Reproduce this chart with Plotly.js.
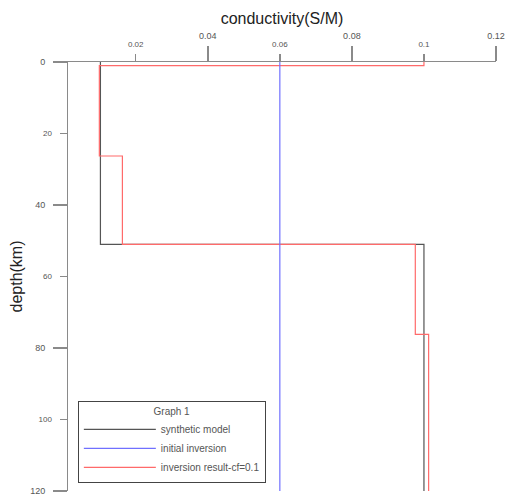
<!DOCTYPE html>
<html>
<head>
<meta charset="utf-8">
<script src="https://cdn.plot.ly/plotly-3.0.1.min.js"></script>
<style>html,body{margin:0;padding:0;background:#fff;}#chart{width:506px;height:499px;}</style>
</head>
<body>
<div id="chart"></div>
<script>
// Series names
var seriesNames = ['synthetic model', 'initial inversion', 'inversion result-cf=0.1'];
// Synthetic model (step profile: conductivity of each layer starting at the given depth)
var synthDepth = [0, 51, 120];
var synthCond = [0.0102, 0.1, 0.1];
// Initial inversion (uniform half-space)
var initDepth = [0, 120];
var initCond = [0.06, 0.06];
// Inversion result cf=0.1
var invDepth = [0, 1, 26.3, 51, 76.2, 120];
var invCond = [0.1, 0.0099, 0.0163, 0.0976, 0.1013, 0.1013];
// Ticks (alternating short / long)
var xTicksShort = [0.02, 0.06, 0.1];
var xTickTextShort = ['0.02', '0.06', '0.1'];
var xTicksLong = [0.04, 0.08, 0.12];
var xTickTextLong = ['0.04', '0.08', '0.12'];
var yTicksShort = [20, 60, 100];
var yTicksLong = [0, 40, 80, 120];

var FONT = 'Liberation Sans, Arial, sans-serif';
var xRange = [0.0012, 0.12];
var yRange = [120, 0];

var traces = [
  {x: synthCond, y: synthDepth, name: seriesNames[0], mode: 'lines', line: {shape: 'vh', color: '#555555', width: 1.2}, xaxis: 'x', yaxis: 'y'},
  {x: initCond, y: initDepth, name: seriesNames[1], mode: 'lines', line: {shape: 'vh', color: '#7070ff', width: 1.2}, xaxis: 'x2', yaxis: 'y2'},
  {x: invCond, y: invDepth, name: seriesNames[2], mode: 'lines', line: {shape: 'vh', color: '#ff6a6a', width: 1.2}, xaxis: 'x', yaxis: 'y'}
];

var axCommon = {showgrid: false, zeroline: false, ticks: 'outside', tickcolor: '#8a8a8a', tickwidth: 1.5, fixedrange: true};

var layout = {
  width: 506, height: 499,
  margin: {l: 68, r: 10, t: 62, b: 8, pad: 0},
  paper_bgcolor: '#fff', plot_bgcolor: '#fff',
  font: {family: FONT, color: '#444'},
  showlegend: true,
  legend: {
    x: 0.023, y: 0.21, xanchor: 'left', yanchor: 'top',
    bgcolor: '#fff', bordercolor: '#444', borderwidth: 1,
    font: {family: FONT, size: 10, color: '#555'},
    title: {text: 'Graph 1', side: 'top center', font: {family: FONT, size: 10, color: '#555'}},
    itemwidth: 72, traceorder: 'normal'
  },
  xaxis: Object.assign({}, axCommon, {
    side: 'top', range: xRange, showline: true, linecolor: '#8a8a8a', linewidth: 1.5,
    tickmode: 'array', tickvals: xTicksShort, ticktext: xTickTextShort, ticklen: 7,
    tickfont: {family: FONT, size: 8, color: '#555'}, ticklabelstandoff: 3,
    title: {text: 'conductivity(S/M)', font: {family: FONT, size: 16, color: '#222'}, standoff: 11}
  }),
  xaxis2: Object.assign({}, axCommon, {
    side: 'top', overlaying: 'x', anchor: 'y', range: xRange, showline: false,
    tickmode: 'array', tickvals: xTicksLong, ticktext: xTickTextLong, ticklen: 15,
    tickfont: {family: FONT, size: 9, color: '#555'}, ticklabelstandoff: 3
  }),
  yaxis: Object.assign({}, axCommon, {
    range: yRange, showline: true, linecolor: '#8a8a8a', linewidth: 1.5,
    tickmode: 'array', tickvals: yTicksShort, ticklen: 7,
    tickfont: {family: FONT, size: 8, color: '#555'}, ticklabelstandoff: 6,
    title: {text: 'depth(km)', font: {family: FONT, size: 16, color: '#222'}, standoff: 12}
  }),
  yaxis2: Object.assign({}, axCommon, {
    overlaying: 'y', anchor: 'x', side: 'left', range: yRange, showline: false,
    tickmode: 'array', tickvals: yTicksLong, ticklen: 14,
    tickfont: {family: FONT, size: 9, color: '#555'}, ticklabelstandoff: 6
  })
};

Plotly.newPlot('chart', traces, layout, {displayModeBar: false, staticPlot: true});
</script>
</body>
</html>
